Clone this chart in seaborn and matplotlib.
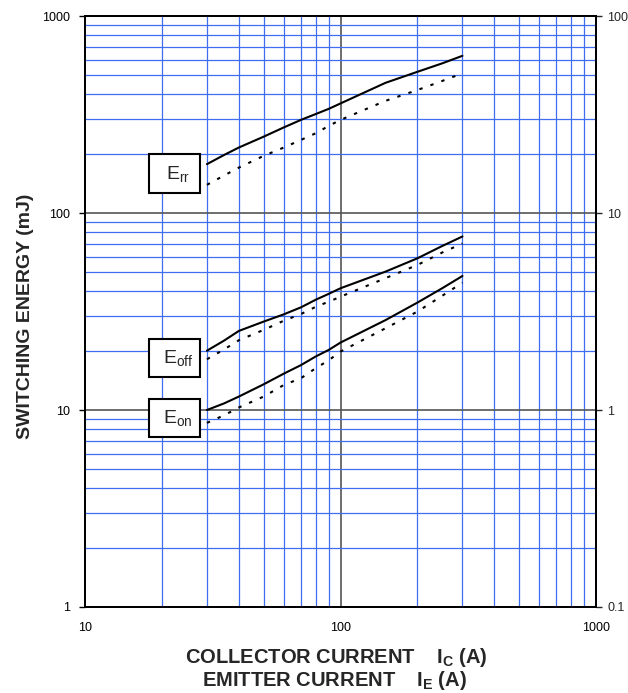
import pandas as pd
import seaborn as sns
import matplotlib.pyplot as plt
from matplotlib.patches import Rectangle
from matplotlib.ticker import LogLocator, FixedLocator, NullFormatter, FixedFormatter

# Values
current = [30, 35, 40, 50, 60, 70, 80, 90, 100, 150, 200, 250, 300]
err_solid = [177, 197, 215, 244, 272, 297, 318, 338, 360, 458, 521, 575, 628]
err_dash = [139, 155, 170, 195, 215, 235, 254, 277, 297, 371, 421, 468, 512]
eoff_solid = [20.0, 22.5, 25.2, 28.1, 30.6, 33.2, 36.3, 38.9, 41.5, 50.4, 58.9, 68, 76]
eoff_dash = [18.1, 20.3, 22.6, 25.5, 28.4, 30.7, 33.4, 35.5, 37.6, 46.7, 54.5, 63, 70]
eon_solid = [10.0, 10.8, 11.7, 13.5, 15.3, 16.9, 18.7, 20.2, 22.0, 28.6, 35.1, 41.5, 47.9]
eon_dash = [8.6, 9.4, 10.3, 11.7, 13.4, 14.5, 16.3, 17.9, 19.8, 26.0, 31.6, 38, 44.3]

left_ticks = [1, 10, 100, 1000]
right_ticks = [0.1, 1, 10, 100]
x_ticks = [10, 100, 1000]

# long table for seaborn
frames = []
for name, cond, vals in [('Err', 'solid', err_solid), ('Err', 'dash', err_dash),
                         ('Eoff', 'solid', eoff_solid), ('Eoff', 'dash', eoff_dash),
                         ('Eon', 'solid', eon_solid), ('Eon', 'dash', eon_dash)]:
    frames.append(pd.DataFrame({'current': current, 'energy': vals,
                                'curve': name, 'cond': cond}))
df = pd.concat(frames, ignore_index=True)

sns.set_style('white')
plt.rcParams['font.family'] = ['Liberation Sans', 'DejaVu Sans']
plt.rcParams['mathtext.fontset'] = 'custom'
plt.rcParams['mathtext.rm'] = 'Liberation Sans'
plt.rcParams['mathtext.bf'] = 'Liberation Sans:bold'

fig = plt.figure(figsize=(6.28, 6.93), dpi=100)
ax = fig.add_axes([0.1354, 0.1241, 0.8137, 0.8528])

sns.lineplot(data=df, x='current', y='energy', hue='curve', style='cond',
             palette={'Err': 'black', 'Eoff': 'black', 'Eon': 'black'},
             dashes={'solid': '', 'dash': (1.6, 4.0)},
             units='curve', estimator=None, legend=False, ax=ax,
             linewidth=1.5, zorder=5)

ax.set_xscale('log')
ax.set_yscale('log')
ax.set_xlim(10, 1000)
ax.set_ylim(1, 1000)

ax.xaxis.set_major_locator(FixedLocator(x_ticks))
ax.xaxis.set_major_formatter(FixedFormatter([str(v) for v in x_ticks]))
ax.yaxis.set_major_locator(FixedLocator(left_ticks))
ax.yaxis.set_major_formatter(FixedFormatter([str(v) for v in left_ticks]))
ax.xaxis.set_minor_locator(LogLocator(base=10, subs=range(2, 10), numticks=20))
ax.yaxis.set_minor_locator(LogLocator(base=10, subs=range(2, 10), numticks=20))
ax.xaxis.set_minor_formatter(NullFormatter())
ax.yaxis.set_minor_formatter(NullFormatter())

ax.set_axisbelow(True)
ax.grid(which='minor', color='#3f6ef0', linewidth=0.9)
ax.grid(which='major', color='#555555', linewidth=1.2)
ax.tick_params(which='minor', length=0)
ax.tick_params(which='major', direction='out', length=4, width=1,
               labelsize=9, pad=7, colors='black')
ax.set_xlabel('')
ax.set_ylabel('')
for sp in ax.spines.values():
    sp.set_linewidth(1.4)
    sp.set_color('black')

ax2 = ax.twinx()
ax2.set_yscale('log')
ax2.set_ylim(0.1, 100)
ax2.yaxis.set_major_locator(FixedLocator(right_ticks))
ax2.yaxis.set_major_formatter(FixedFormatter(['0.1', '1', '10', '100']))
ax2.yaxis.set_minor_locator(FixedLocator([]))
ax2.tick_params(direction='out', length=4, width=1, labelsize=9, pad=4)
ax2.grid(False)
for sp in ax2.spines.values():
    sp.set_linewidth(1.4)
    sp.set_color('black')

# curve labels in boxes
boxes = [(0.701, r'$\mathrm{E_{rr}}$'), (0.389, r'$\mathrm{E_{off}}$'),
         (0.287, r'$\mathrm{E_{on}}$')]
for y0, lab in boxes:
    ax.add_patch(Rectangle((0.126, y0), 0.099, 0.065, transform=ax.transAxes,
                           facecolor='white', edgecolor='black', linewidth=1.5,
                           zorder=10))
    ax.text(0.126 + 0.0495 + 0.006, y0 + 0.0325, lab, transform=ax.transAxes,
            ha='center', va='center', fontsize=14, zorder=11)

fig.text(0.041, 0.544, 'SWITCHING ENERGY (mJ)', rotation=90, ha='center',
         va='center', fontsize=14, fontweight='bold')
fig.text(0.535, 0.0435, r'COLLECTOR CURRENT    $\mathbf{I_C}$ (A)',
         ha='center', va='baseline', fontsize=14.5, fontweight='bold')
fig.text(0.533, 0.0095, r'EMITTER CURRENT    $\mathbf{I_E}$ (A)',
         ha='center', va='baseline', fontsize=14.5, fontweight='bold')

fig.savefig('out.png', dpi=100)
